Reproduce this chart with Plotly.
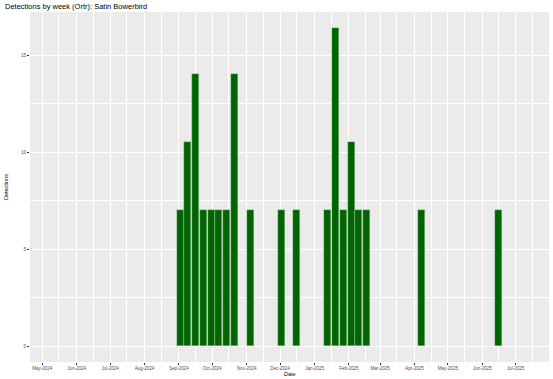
import plotly.graph_objects as go
import pandas as pd

# Weekly detections (week start dates, Mondays)
week_starts = [
    "2024-09-02", "2024-09-09", "2024-09-16", "2024-09-23", "2024-09-30",
    "2024-10-07", "2024-10-14", "2024-10-21", "2024-11-04", "2024-12-02",
    "2024-12-16", "2025-01-13", "2025-01-20", "2025-01-27", "2025-02-03",
    "2025-02-10", "2025-02-17", "2025-04-07", "2025-06-16",
]
detections = [
    7, 10.5, 14, 7, 7,
    7, 7, 14, 7, 7,
    7, 7, 16.4, 7, 10.5,
    7, 7, 7, 7,
]
y_ticks = [0, 5, 10, 15]
y_tick_labels = ["0", "5", "10", "15"]
x_range = ["2024-04-20", "2025-07-31"]

title_text = "Detections by week (Ortr): Satin Bowerbird"
x_title = "Date"
y_title = "Detections"

W, H = 553, 379
ml, mr, mt, mb = 30, 4, 12, 17

bar_width_ms = 6.3 * 86400000

fig = go.Figure()
fig.add_trace(go.Bar(
    x=pd.to_datetime(week_starts),
    y=detections,
    width=[bar_width_ms] * len(week_starts),
    marker=dict(color="#006400", line=dict(color="rgba(200,220,200,0.7)", width=0.5)),
))

ymax = max(detections)
pad = 0.05 * ymax
ph = H - mt - mb
pw = W - ml - mr

fig.update_layout(
    width=W, height=H,
    margin=dict(l=ml, r=mr, t=mt, b=mb, pad=0),
    paper_bgcolor="white",
    plot_bgcolor="#EBEBEB",
    showlegend=False,
    font=dict(family="Liberation Sans, Arial, sans-serif", color="#4D4D4D"),
    bargap=0,
    xaxis=dict(
        type="date",
        range=x_range,
        dtick="M1",
        tick0="2024-05-01",
        tickformat="%b-%Y",
        tickfont=dict(size=4.5, color="#4D4D4D"),
        ticks="outside", ticklen=2, tickcolor="#333333", tickwidth=0.5,
        showgrid=True, gridcolor="white", gridwidth=1,
        minor=dict(dtick="M1", tick0="2024-04-16", showgrid=True,
                   gridcolor="white", gridwidth=0.5),
        zeroline=False, showline=False,
        automargin=False,
    ),
    yaxis=dict(
        range=[-pad, ymax + pad],
        tickvals=y_ticks,
        ticktext=y_tick_labels,
        tickfont=dict(size=4.5, color="#4D4D4D"),
        ticks="outside", ticklen=2, tickcolor="#333333", tickwidth=0.5,
        showgrid=True, gridcolor="white", gridwidth=1,
        minor=dict(tickvals=[2.5, 7.5, 12.5], showgrid=True,
                   gridcolor="white", gridwidth=0.5),
        zeroline=False, showline=False,
        automargin=False,
    ),
    annotations=[
        dict(text=title_text, xref="paper", yref="paper",
             x=-(ml - 3) / pw, y=1 + 6 / ph,
             xanchor="left", yanchor="middle", showarrow=False,
             font=dict(size=7.5, color="black")),
        dict(text=x_title, xref="paper", yref="paper",
             x=0.5, y=-12 / ph,
             xanchor="center", yanchor="middle", showarrow=False,
             font=dict(size=5.5, color="black")),
        dict(text=y_title, xref="paper", yref="paper",
             x=-(ml - 6) / pw, y=0.5, textangle=-90,
             xanchor="center", yanchor="middle", showarrow=False,
             font=dict(size=5.5, color="black")),
    ],
)

fig.write_html("out.html")
